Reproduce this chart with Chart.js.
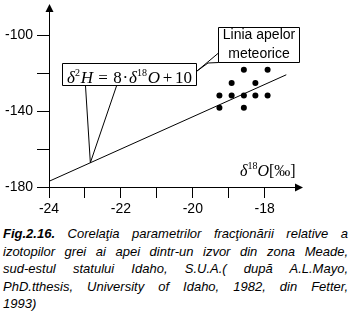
<!DOCTYPE html>
<html>
<head>
<meta charset="utf-8">
<script src="https://cdn.jsdelivr.net/npm/chart.js@4/dist/chart.umd.min.js"></script>
<style>
  html, body { margin: 0; padding: 0; background: #fff; }
  #wrap { position: relative; width: 352px; height: 222px; }
  #caption {
    width: 345px; margin-left: 3px; margin-top: 3px;
    font-family: "Liberation Sans", Arial, sans-serif;
    font-style: italic; font-size: 13px; line-height: 17.6px; color: #000;
  }
  #caption div { text-align: justify; text-align-last: justify; white-space: nowrap; }
  #caption div.last { text-align-last: left; }
  #caption b { font-weight: bold; }
</style>
</head>
<body>
<div id="wrap"><canvas id="c" width="352" height="222"></canvas></div>
<div id="caption">
  <div><b>Fig.2.16.</b> Corelaţia parametrilor fracţionării relative a</div>
  <div>izotopilor grei ai apei dintr-un izvor din zona Meade,</div>
  <div>sud-estul statului Idaho, S.U.A.( după A.L.Mayo,</div>
  <div>PhD.tthesis, University of Idaho, 1982, din Fetter,</div>
  <div class="last">1993)</div>
</div>
<script>
// Axis ticks and labelled values
const xTicks = [-24, -23, -22, -21, -20, -19, -18];
const xLabelled = [-24, -22, -20, -18];
const yTicks = [-180, -160, -140, -120, -100];
const yLabelled = [-180, -140, -100];

// Meteoric water line (end points)
const lineX = [-24, -17.4];
const lineY = [-177, -120.8];

// Spring water samples
const sampleX = [-18.58, -17.92, -18.92, -18.26, -19.26, -18.92, -18.58, -18.26, -17.92, -19.26, -18.58];
const sampleY = [-118.2, -118.2, -125.2, -125.2, -131.8, -131.8, -131.8, -131.8, -131.8, -138.2, -138.2];

const SERIF = '"Liberation Serif", "Times New Roman", serif';
const SANS = '"Liberation Sans", Arial, sans-serif';

// Lay out a run of formula pieces from x0, spreading spare room evenly so it ends at x1
function drawFormula(ctx, pieces, x0, x1, baseline) {
  const widths = pieces.map(p => { ctx.font = p.font; return ctx.measureText(p.t).width; });
  const gaps = pieces.map(p => p.gap || 0);
  const natural = widths.reduce((a, b) => a + b, 0) + gaps.reduce((a, b) => a + b, 0);
  const gapTotal = gaps.reduce((a, b) => a + b, 0);
  const k = gapTotal > 0 ? Math.max(0, (x1 - x0 - natural + gapTotal) / gapTotal) : 1;
  let x = x0;
  pieces.forEach((p, i) => {
    x += gaps[i] * k;
    ctx.font = p.font;
    ctx.fillText(p.t, x, baseline + (p.dy || 0));
    x += widths[i];
  });
}

const annotations = {
  id: 'annotations',
  afterDraw(chart) {
    const ctx = chart.ctx;
    const xs = chart.scales.x, ys = chart.scales.y;
    const ax = Math.round(xs.getPixelForValue(-24)) + 0.5;
    const ay = Math.round(ys.getPixelForValue(-180)) + 0.5;
    ctx.save();
    ctx.fillStyle = '#000';
    ctx.strokeStyle = '#000';
    ctx.lineWidth = 1;

    // arrow heads on the axes
    ctx.beginPath();
    ctx.moveTo(ax, 4); ctx.lineTo(ax - 4, 12); ctx.lineTo(ax + 4, 12); ctx.closePath(); ctx.fill();
    ctx.beginPath();
    ctx.moveTo(ax, chart.chartArea.top); ctx.lineTo(ax, 12); ctx.stroke();
    const xr = chart.chartArea.right;
    ctx.beginPath();
    ctx.moveTo(303, ay); ctx.lineTo(295, ay - 4); ctx.lineTo(295, ay + 4); ctx.closePath(); ctx.fill();
    ctx.beginPath();
    ctx.moveTo(xr, ay); ctx.lineTo(295, ay); ctx.stroke();

    // equation callout box pointing at the line
    const tipX = xs.getPixelForValue(-22.85);
    const tipY = ys.getPixelForValue(lineY[0] + (-22.85 - lineX[0]) * (lineY[1] - lineY[0]) / (lineX[1] - lineX[0]));
    ctx.beginPath();
    ctx.rect(62.5, 63.5, 134, 22);
    ctx.fillStyle = '#fff';
    ctx.fill();
    ctx.stroke();
    ctx.beginPath();
    ctx.moveTo(85.5, 86); ctx.lineTo(tipX, tipY);
    ctx.lineTo(116.5, 86);
    ctx.stroke();

    ctx.fillStyle = '#000';
    ctx.textAlign = 'left';
    ctx.textBaseline = 'alphabetic';
    const big = '17px ' + SERIF, bigI = 'italic 17px ' + SERIF, sup = '10px ' + SERIF;
    drawFormula(ctx, [
      { t: '\u03B4', font: bigI },
      { t: '2', font: sup, dy: -7 },
      { t: 'H', font: bigI, gap: 1 },
      { t: '=', font: big, gap: 6 },
      { t: '8', font: big, gap: 6 },
      { t: '\u00B7', font: big, gap: 1 },
      { t: '\u03B4', font: bigI, gap: 1 },
      { t: '18', font: sup, dy: -7 },
      { t: 'O', font: bigI, gap: 1 },
      { t: '+', font: big, gap: 3 },
      { t: '10', font: big, gap: 3 }
    ], 67, 192, 83);

    // "Linia apelor meteorice" callout
    ctx.beginPath();
    ctx.rect(218.5, 27.5, 81, 35);
    ctx.fillStyle = '#fff';
    ctx.fill();
    ctx.stroke();
    ctx.beginPath();
    ctx.moveTo(218.5, 53); ctx.lineTo(197, 71); ctx.lineTo(208, 63); ctx.lineTo(218.5, 62.5);
    ctx.stroke();
    ctx.fillStyle = '#000';
    ctx.font = '14px ' + SANS;
    ctx.textAlign = 'center';
    ctx.fillText('Linia apelor', 259, 39);
    ctx.fillText('meteorice', 259, 58);

    // x-axis title
    ctx.textAlign = 'left';
    drawFormula(ctx, [
      { t: '\u03B4', font: 'italic 16px ' + SERIF },
      { t: '18', font: '10px ' + SERIF, dy: -7 },
      { t: 'O', font: 'italic 16px ' + SERIF },
      { t: '[\u2030]', font: '16px ' + SERIF, gap: 1 }
    ], 240, 293, 176);
    ctx.restore();
  }
};

new Chart(document.getElementById('c'), {
  data: {
    datasets: [
      {
        type: 'line',
        data: lineX.map((x, i) => ({ x, y: lineY[i] })),
        borderColor: '#000', borderWidth: 1, pointRadius: 0, fill: false, tension: 0
      },
      {
        type: 'scatter',
        data: sampleX.map((x, i) => ({ x, y: sampleY[i] })),
        backgroundColor: '#000', borderColor: '#000', pointRadius: 3, borderWidth: 0
      }
    ]
  },
  options: {
    responsive: false,
    animation: false,
    events: [],
    layout: { padding: { left: 0, top: 12, right: 56, bottom: 0 } },
    plugins: { legend: { display: false }, tooltip: { enabled: false } },
    scales: {
      x: {
        type: 'linear', min: -24, max: -17.13,
        afterBuildTicks: s => { s.ticks = xTicks.map(v => ({ value: v })); },
        afterFit: s => { s.height = 35; },
        grid: { drawOnChartArea: false, drawTicks: true, tickLength: 11, color: '#000' },
        border: { display: true, color: '#000', width: 1 },
        ticks: {
          color: '#000', padding: 3, maxRotation: 0, autoSkip: false,
          font: { family: SANS, size: 14 },
          callback: v => xLabelled.includes(v) ? String(v) : ''
        }
      },
      y: {
        type: 'linear', min: -180, max: -87.9,
        afterBuildTicks: s => { s.ticks = yTicks.map(v => ({ value: v })); },
        afterFit: s => { s.width = 49; },
        grid: { drawOnChartArea: false, drawTicks: true, tickLength: 12, color: '#000' },
        border: { display: true, color: '#000', width: 1 },
        ticks: {
          color: '#000', padding: 4, autoSkip: false,
          font: { family: SANS, size: 14 },
          callback: v => yLabelled.includes(v) ? String(v) : ''
        }
      }
    }
  },
  plugins: [annotations]
});
</script>
</body>
</html>
